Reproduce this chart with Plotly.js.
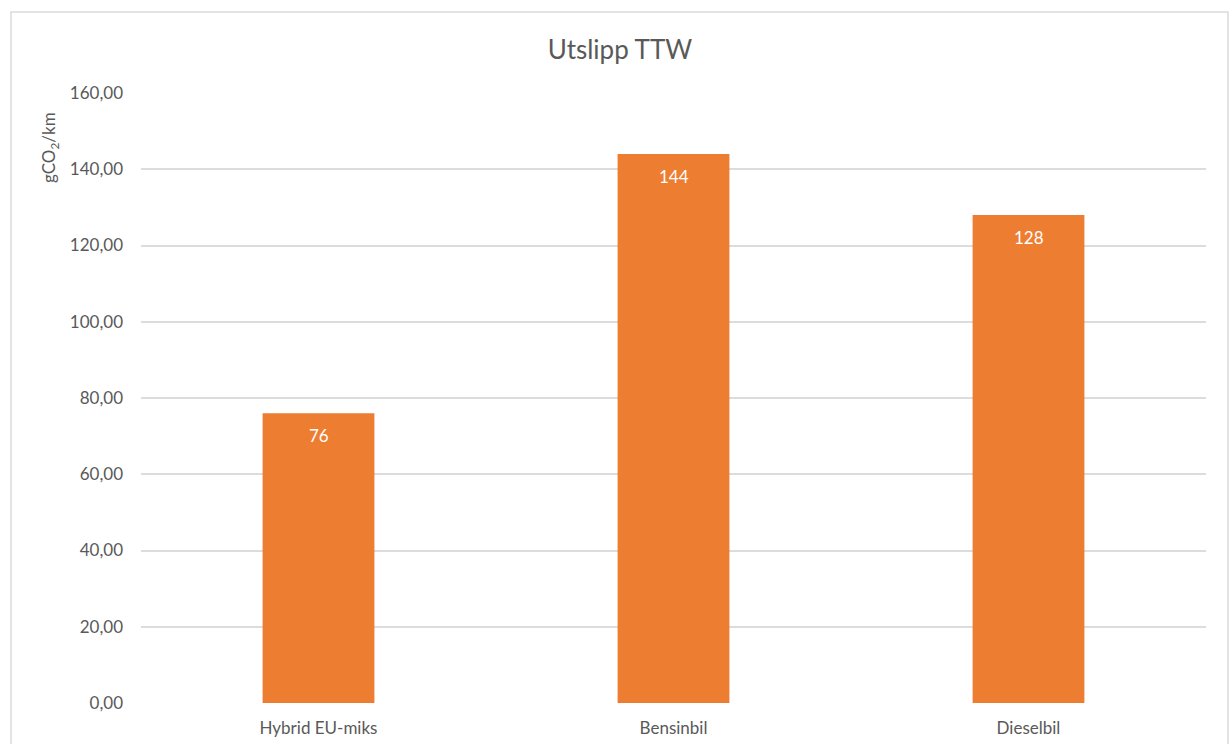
<!DOCTYPE html>
<html>
<head>
<meta charset="utf-8">
<script src="https://cdn.plot.ly/plotly-3.0.1.min.js"></script>
<style>
  html, body { margin: 0; padding: 0; background: #ffffff; }
  #chart { width: 1229px; height: 744px; }
</style>
</head>
<body>
<div id="chart"></div>
<script>
// Tank-to-wheel emissions per vehicle type (gCO2/km)
const categories = ['Hybrid EU-miks', 'Bensinbil', 'Dieselbil'];
const emissions = [76, 144, 128];
const yTicks = [0, 20, 40, 60, 80, 100, 120, 140, 160];

const textColor = '#595959';
const barColor = '#ED7D31';
const gridColor = '#dcdcdc';
const fontFamily = 'Lato, "Open Sans", sans-serif';

const trace = {
  type: 'bar',
  x: categories,
  y: emissions,
  marker: { color: barColor, line: { width: 0 } },
  hoverinfo: 'x+y'
};

// value labels sit inside each bar, just under its top
const valueLabels = categories.map((c, i) => ({
  x: c,
  y: emissions[i],
  xref: 'x',
  yref: 'y',
  text: String(emissions[i]),
  showarrow: false,
  yanchor: 'middle',
  yshift: -22,
  font: { family: fontFamily, size: 17, color: '#ffffff' }
}));

const layout = {
  width: 1229,
  height: 744,
  margin: { l: 141, r: 23, t: 93, b: 41 },
  paper_bgcolor: '#ffffff',
  plot_bgcolor: '#ffffff',
  separators: ', ',
  bargap: 0.685,
  showlegend: false,
  font: { family: fontFamily, color: textColor, size: 16 },
  title: {
    text: 'Utslipp TTW',
    font: { family: fontFamily, size: 26, color: textColor },
    x: 0.5045,
    xref: 'container',
    xanchor: 'center',
    y: 1 - 50 / 744,
    yref: 'container',
    yanchor: 'middle'
  },
  xaxis: {
    type: 'category',
    showgrid: false,
    showline: false,
    zeroline: false,
    ticks: '',
    ticklabelstandoff: 13,
    tickfont: { family: fontFamily, size: 17, color: textColor },
    fixedrange: true
  },
  yaxis: {
    range: [0, 160],
    tickvals: yTicks,
    tickformat: '.2f',
    showgrid: true,
    gridcolor: gridColor,
    gridwidth: 2,
    zeroline: false,
    showline: false,
    ticks: '',
    ticklabelstandoff: 17,
    tickfont: { family: fontFamily, size: 17, color: textColor },
    fixedrange: true
  },
  annotations: valueLabels.concat([{
    text: 'gCO<sub>2</sub>/km',
    xref: 'paper',
    yref: 'paper',
    x: (50 - 141) / 1065,
    y: (703 - 148) / 610,
    textangle: -90,
    showarrow: false,
    xanchor: 'center',
    yanchor: 'middle',
    font: { family: fontFamily, size: 17, color: textColor }
  }]),
  shapes: [{
    type: 'rect',
    xref: 'paper',
    yref: 'paper',
    x0: (11 - 141) / 1065,
    x1: (1228 - 141) / 1065,
    y0: (703 - 760) / 610,
    y1: (703 - 12) / 610,
    line: { color: gridColor, width: 1.5 },
    fillcolor: 'rgba(0,0,0,0)',
    layer: 'below'
  }]
};

Plotly.newPlot('chart', [trace], layout, { displayModeBar: false, staticPlot: true });
</script>
</body>
</html>
